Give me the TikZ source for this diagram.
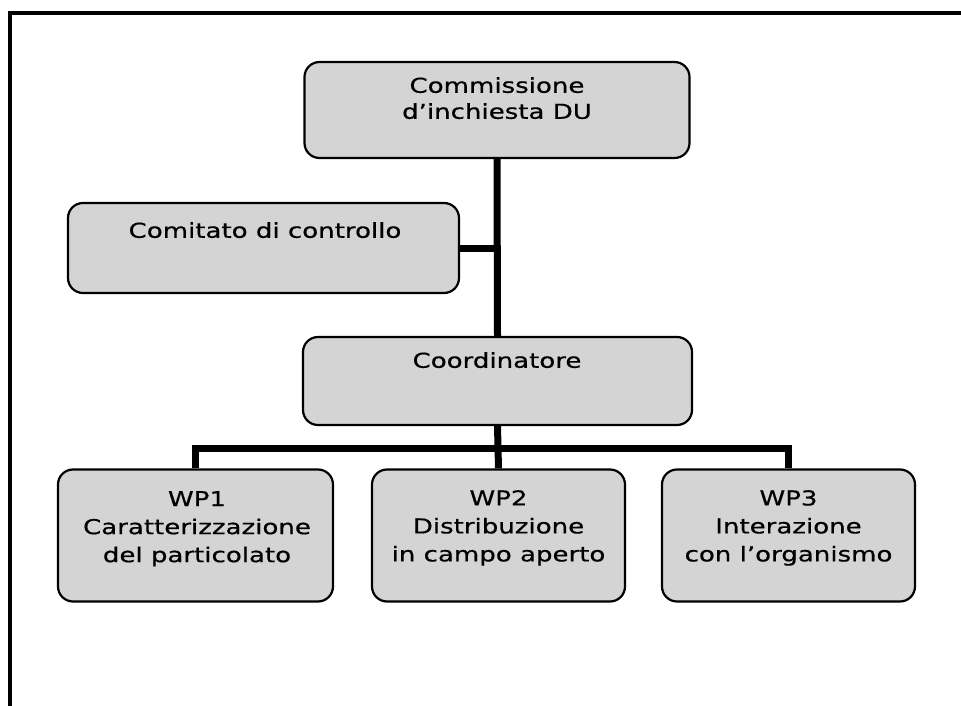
\documentclass[tikz,border=0pt]{standalone}
\usepackage{fontspec}
\setmainfont{DejaVu Sans}[FakeStretch=1.27, FakeBold=0.6]
\definecolor{boxgray}{RGB}{212,212,212}
\tikzset{
    unit/.style={draw, fill=boxgray, line width=2.2pt, rounded corners=15pt, inner sep=0pt},
    unittext/.style={anchor=north, align=center, inner sep=0pt},
    wire/.style={line width=7pt},
}
\begin{document}
\begin{tikzpicture}[x=1pt, y=-1pt, font=\fontsize{20.5}{28}\selectfont]
    \useasboundingbox (0,0) rectangle (961,706);
    % frame
    \draw[line width=4pt] (10,706) -- (10,13) -- (961,13);

    % boxes
    \node[unit, minimum width=385pt, minimum height=96pt] (comm) at (497,110) {};
    \node[unit, minimum width=391pt, minimum height=90pt] (comitato) at (263.5,248) {};
    \node[unit, minimum width=389pt, minimum height=88pt] (coord) at (497.5,381) {};
    \node[unit, minimum width=275pt, minimum height=132pt] (wp1) at (195.5,535.5) {};
    \node[unit, minimum width=253pt, minimum height=132pt] (wp2) at (498.5,535.5) {};
    \node[unit, minimum width=253pt, minimum height=132pt] (wp3) at (788.5,535.5) {};

    % texts
    \node[unittext, font=\fontsize{20.5}{26}\selectfont] (commtxt) at (497,77) {Commissione\\d’inchiesta DU};
    \node[unittext] (comitatotxt) at (265,222) {Comitato di controllo};
    \node[unittext] (coordtxt) at (497,352) {Coordinatore};
    \node[unittext] (wp1txt) at (197,491) {WP1\\Caratterizzazione\\del particolato};
    \node[unittext] (wp2txt) at (498.5,490) {WP2\\Distribuzione\\in campo aperto};
    \node[unittext] (wp3txt) at (788.5,490) {WP3\\Interazione\\con l’organismo};

    % connectors
    \coordinate (bus) at (497,448);
    \draw[wire] (comm.south) -- (coord.north);
    \draw[wire] (comitato.east) -- (comitato.east -| comm.south);
    \draw[wire] (coord.south) -- (wp2.north);
    \draw[wire] (wp1.north) |- (bus) -| (wp3.north);
\end{tikzpicture}
\end{document}
